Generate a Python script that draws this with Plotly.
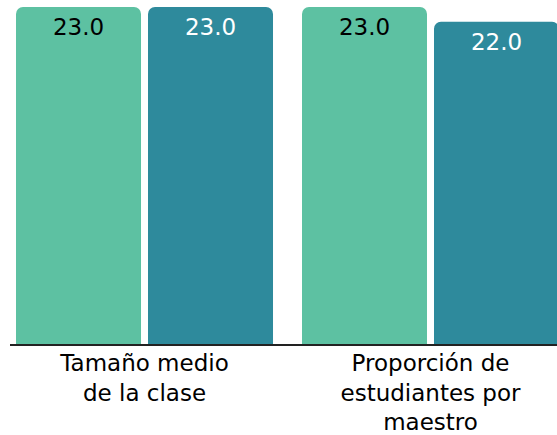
import plotly.graph_objects as go

categories = ["Tamaño medio<br>de la clase", "Proporción de<br>estudiantes por<br>maestro"]
series_a_name = "Escuela"
series_a_values = [23.0, 23.0]
series_b_name = "Distrito"
series_b_values = [23.0, 22.0]

color_a = "#5DC1A2"
color_b = "#2E8A9C"
font_family = "DejaVu Sans"

fig = go.Figure()
fig.add_trace(go.Bar(
    name=series_a_name, x=categories, y=series_a_values,
    marker=dict(color=color_a, cornerradius=7, line=dict(width=0)),
    texttemplate="%{y:.1f}", textposition="inside", insidetextanchor="end",
    textangle=0, textfont=dict(color="#000000", size=23, family=font_family),
))
fig.add_trace(go.Bar(
    name=series_b_name, x=categories, y=series_b_values,
    marker=dict(color=color_b, cornerradius=7, line=dict(width=0)),
    texttemplate="%{y:.1f}", textposition="inside", insidetextanchor="end",
    textangle=0, textfont=dict(color="#FFFFFF", size=23, family=font_family),
))

fig.update_layout(
    width=557, height=435,
    margin=dict(l=10, r=0, t=7, b=91),
    barmode="group", bargap=0.0769, bargroupgap=0.053,
    plot_bgcolor="white", paper_bgcolor="white",
    showlegend=False,
    font=dict(family=font_family, color="#000000"),
    uniformtext=dict(mode=False),
)
fig.update_xaxes(
    type="category", range=[-0.4703, 1.4423], automargin=False,
    showline=True, linecolor="#222222", linewidth=2,
    showgrid=False, ticks="", ticklabelstandoff=-3,
    tickfont=dict(size=23, color="#000000"),
)
fig.update_yaxes(
    range=[0, 23], visible=False, showgrid=False, zeroline=False,
    automargin=False,
)

fig.write_html(
    "out.html",
    config={"displayModeBar": False},
    post_script="document.body.style.margin='0';",
)
